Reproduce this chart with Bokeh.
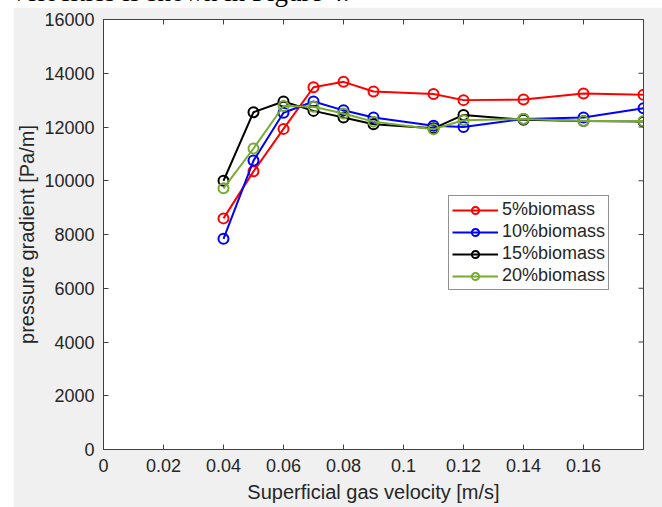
import math
from bokeh.plotting import figure
from bokeh.models import FixedTicker, Legend, LegendItem, Div, Spacer, Range1d
from bokeh.layouts import column, row
from bokeh.embed import file_html
from bokeh.resources import INLINE

# ---- data ----
velocity = [0.04, 0.05, 0.06, 0.07, 0.08, 0.09, 0.11, 0.12, 0.14, 0.16, 0.18]
bio5 = [8600, 10350, 11930, 13480, 13680, 13320, 13230, 13000, 13020, 13250, 13200]
bio10 = [7840, 10750, 12530, 12950, 12620, 12350, 12050, 12000, 12300, 12350, 12700]
bio15 = [10000, 12550, 12950, 12600, 12350, 12100, 11950, 12450, 12270, 12220, 12200]
bio20 = [9720, 11200, 12780, 12750, 12500, 12200, 11920, 12250, 12300, 12220, 12220]
series_names = ["5%biomass", "10%biomass", "15%biomass", "20%biomass"]
series_colors = ["#ff0000", "#0000ff", "#000000", "#77ac30"]

x_ticks = [0, 0.02, 0.04, 0.06, 0.08, 0.1, 0.12, 0.14, 0.16]
x_tick_labels = ["0", "0.02", "0.04", "0.06", "0.08", "0.1", "0.12", "0.14", "0.16"]
y_ticks = [0, 2000, 4000, 6000, 8000, 10000, 12000, 14000, 16000]
x_lim = (0, 0.18)
y_lim = (0, 16000)

FONT = "Liberation Sans"
TXT = "#262626"
AX = "#404040"

p = figure(width=649, height=500, frame_width=540, frame_height=430,
           output_backend="svg", toolbar_location=None,
           x_range=Range1d(*x_lim), y_range=Range1d(*y_lim),
           min_border_left=89, min_border_top=12, min_border_right=20, min_border_bottom=58,
           margin=0)
p.border_fill_color = "#f0f0f0"
p.background_fill_color = "white"
p.outline_line_color = AX
p.outline_line_width = 1
p.grid.visible = False

renderers = []
for ys, name, col in zip([bio5, bio10, bio15, bio20], series_names, series_colors):
    l = p.line(velocity, ys, line_color=col, line_width=2)
    s = p.scatter(velocity, ys, marker="circle", size=10, fill_color=None,
                  line_color=col, line_width=2)
    renderers.append((name, [l, s]))

# inside ticks on the top and right edges (box on)
p.scatter(x_ticks, [y_lim[1]] * len(x_ticks), marker="dash", size=10,
          angle=math.pi / 2, line_color=AX, line_width=1)
p.scatter([x_lim[1]] * len(y_ticks), y_ticks, marker="dash", size=10,
          line_color=AX, line_width=1)

def style_axis(ax):
    ax.major_tick_in = 5
    ax.major_tick_out = 0
    ax.minor_tick_line_color = None
    ax.axis_line_color = AX
    ax.major_tick_line_color = AX
    ax.major_label_text_font = FONT
    ax.major_label_text_color = TXT
    ax.major_label_text_font_size = "18px"
    ax.axis_label_text_font = FONT
    ax.axis_label_text_color = TXT
    ax.axis_label_text_font_style = "normal"
    ax.axis_label_text_font_size = "20px"

xa = p.xaxis[0]
xa.ticker = FixedTicker(ticks=x_ticks)
xa.major_label_overrides = {t: s for t, s in zip(x_ticks, x_tick_labels)}
xa.axis_label = "Superficial gas velocity [m/s]"
style_axis(xa)
xa.major_label_standoff = 9
xa.axis_label_standoff = 6

ya = p.yaxis[0]
ya.ticker = FixedTicker(ticks=y_ticks)
ya.major_label_overrides = {t: str(t) for t in y_ticks}
ya.axis_label = "pressure gradient [Pa/m]"
style_axis(ya)
ya.major_label_standoff = 9
ya.axis_label_standoff = 3

legend = Legend(items=[LegendItem(label=n, renderers=r) for n, r in renderers],
                location=(345, 159))
legend.label_text_font = FONT
legend.label_text_font_size = "18px"
legend.label_text_color = TXT
legend.border_line_color = "#262626"
legend.border_line_width = 1
legend.background_fill_color = "white"
legend.background_fill_alpha = 1
legend.glyph_width = 46
legend.glyph_height = 18
legend.label_height = 18
legend.label_standoff = 4
legend.spacing = 1
legend.padding = 3
legend.margin = 0
p.add_layout(legend, "center")

header = Div(text='<div style="position:absolute; left:12px; top:-21px; white-space:nowrap; '
                  'font-family:\'Liberation Serif\'; font-size:27px; line-height:27px; color:#000;">'
                  'velocities is shown in Figure 4.</div>',
             width=662, height=7, margin=0,
             styles={"overflow": "hidden", "position": "relative", "background": "white"})

layout = column(header, row(Spacer(width=13, height=500, margin=0), p, margin=0),
                spacing=0, margin=0)

open("out.html", "w").write(file_html(layout, INLINE))
